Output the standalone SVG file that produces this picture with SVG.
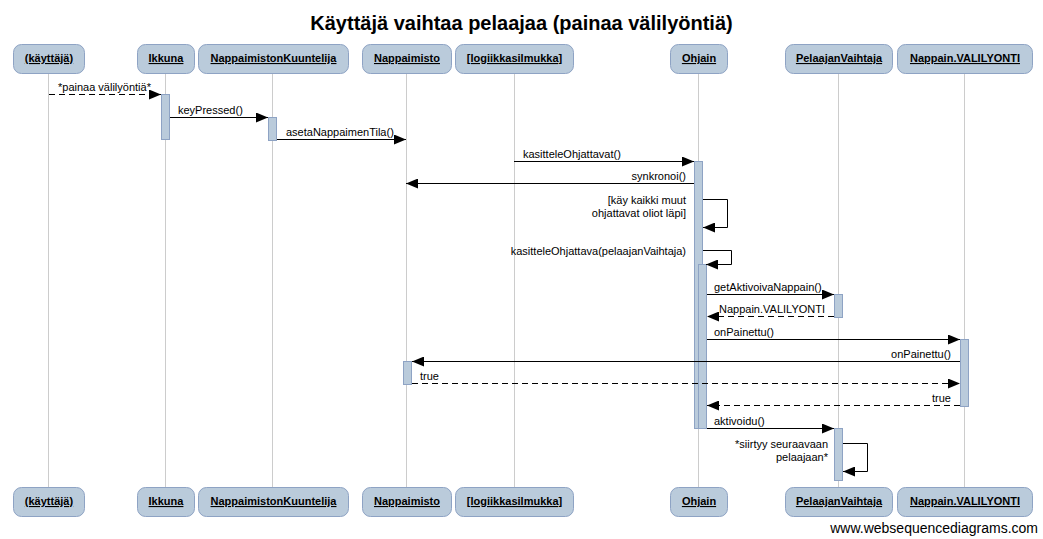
<svg xmlns="http://www.w3.org/2000/svg" width="1043" height="539" viewBox="0 0 1043 539">
<style>
.box{fill:#bacbdb;stroke:#8ea3c4;stroke-width:1}
.bl{font-family:"Liberation Sans",Arial,sans-serif;font-size:11px;font-weight:bold;text-decoration:underline;text-anchor:middle;fill:#000}
.life{stroke:#cccccc;stroke-width:1;fill:none}
.act{fill:#bacbdb;stroke:#8ea3c4;stroke-width:1}
.msg{stroke:#000;stroke-width:1;fill:none}
.dash{stroke-dasharray:6,4}
.t{font-family:"Liberation Sans",Arial,sans-serif;font-size:11px;fill:#000}
.r{text-anchor:end}
</style>
<defs>
<marker id="ah" markerUnits="userSpaceOnUse" markerWidth="12" markerHeight="10" refX="12" refY="5" orient="auto">
<path d="M0,0 L12,5 L0,10 z" fill="#000"/>
</marker>
</defs>
<rect width="1043" height="539" fill="#fff"/>
<text x="521.5" y="30" style="font-family:'Liberation Sans',Arial,sans-serif;font-size:20px;font-weight:bold" text-anchor="middle">Käyttäjä vaihtaa pelaajaa (painaa välilyöntiä)</text>

<g id="lifelines">
<line class="life" x1="48.5" y1="74" x2="48.5" y2="487"/>
<line class="life" x1="165.5" y1="74" x2="165.5" y2="487"/>
<line class="life" x1="272.5" y1="74" x2="272.5" y2="487"/>
<line class="life" x1="406.5" y1="74" x2="406.5" y2="487"/>
<line class="life" x1="514.5" y1="74" x2="514.5" y2="487"/>
<line class="life" x1="698.5" y1="74" x2="698.5" y2="487"/>
<line class="life" x1="838.5" y1="74" x2="838.5" y2="487"/>
<line class="life" x1="964.5" y1="74" x2="964.5" y2="487"/>
</g>

<g id="n-kayttaja">
<rect class="box" x="13.5" y="44.5" width="71" height="29" rx="8"/>
<text class="bl" x="49" y="62">(käyttäjä)</text>
<rect class="box" x="13.5" y="487.5" width="71" height="29" rx="8"/>
<text class="bl" x="49" y="505">(käyttäjä)</text>
</g>
<g id="n-ikkuna">
<rect class="box" x="137.5" y="44.5" width="57" height="29" rx="8"/>
<text class="bl" x="166" y="62">Ikkuna</text>
<rect class="box" x="137.5" y="487.5" width="57" height="29" rx="8"/>
<text class="bl" x="166" y="505">Ikkuna</text>
</g>
<g id="n-kuuntelija">
<rect class="box" x="198.5" y="44.5" width="150" height="29" rx="8"/>
<text class="bl" x="273.5" y="62">NappaimistonKuuntelija</text>
<rect class="box" x="198.5" y="487.5" width="150" height="29" rx="8"/>
<text class="bl" x="273.5" y="505">NappaimistonKuuntelija</text>
</g>
<g id="n-nappaimisto">
<rect class="box" x="362.5" y="44.5" width="89" height="29" rx="8"/>
<text class="bl" x="407" y="62">Nappaimisto</text>
<rect class="box" x="362.5" y="487.5" width="89" height="29" rx="8"/>
<text class="bl" x="407" y="505">Nappaimisto</text>
</g>
<g id="n-logiikka">
<rect class="box" x="455.5" y="44.5" width="118" height="29" rx="8"/>
<text class="bl" x="514.5" y="62">[logiikkasilmukka]</text>
<rect class="box" x="455.5" y="487.5" width="118" height="29" rx="8"/>
<text class="bl" x="514.5" y="505">[logiikkasilmukka]</text>
</g>
<g id="n-ohjain">
<rect class="box" x="670.5" y="44.5" width="57" height="29" rx="8"/>
<text class="bl" x="699" y="62">Ohjain</text>
<rect class="box" x="670.5" y="487.5" width="57" height="29" rx="8"/>
<text class="bl" x="699" y="505">Ohjain</text>
</g>
<g id="n-pelaajanvaihtaja">
<rect class="box" x="785.5" y="44.5" width="107" height="29" rx="8"/>
<text class="bl" x="839" y="62">PelaajanVaihtaja</text>
<rect class="box" x="785.5" y="487.5" width="107" height="29" rx="8"/>
<text class="bl" x="839" y="505">PelaajanVaihtaja</text>
</g>
<g id="n-valilyonti">
<rect class="box" x="897.5" y="44.5" width="135" height="29" rx="8"/>
<text class="bl" x="965" y="62">Nappain.VALILYONTI</text>
<rect class="box" x="897.5" y="487.5" width="135" height="29" rx="8"/>
<text class="bl" x="965" y="505">Nappain.VALILYONTI</text>
</g>

<g id="activations">
<rect class="act" x="161.5" y="94.5" width="8" height="45"/>
<rect class="act" x="268.5" y="117.5" width="8" height="23"/>
<rect class="act" x="694.5" y="161.5" width="8" height="267"/>
<rect class="act" x="698.5" y="264.5" width="8" height="164"/>
<rect class="act" x="834.5" y="294.5" width="8" height="23"/>
<rect class="act" x="960.5" y="339.5" width="8" height="67"/>
<rect class="act" x="403.5" y="361.5" width="8" height="23"/>
<rect class="act" x="834.5" y="428.5" width="8" height="52"/>
</g>

<g id="connectors">
<line class="msg dash" x1="49" y1="94.5" x2="161" y2="94.5" marker-end="url(#ah)"/>
<text class="t" x="58" y="91">*painaa välilyöntiä*</text>

<line class="msg" x1="170" y1="117.5" x2="268" y2="117.5" marker-end="url(#ah)"/>
<text class="t" x="178" y="114">keyPressed()</text>

<line class="msg" x1="277" y1="139.5" x2="406" y2="139.5" marker-end="url(#ah)"/>
<text class="t" x="286" y="136">asetaNappaimenTila()</text>

<line class="msg" x1="514" y1="161.5" x2="694" y2="161.5" marker-end="url(#ah)"/>
<text class="t" x="523" y="158">kasitteleOhjattavat()</text>

<line class="msg" x1="694" y1="183.5" x2="406" y2="183.5" marker-end="url(#ah)"/>
<text class="t r" x="686" y="180">synkronoi()</text>

<polyline class="msg" points="703,199.5 727.5,199.5 727.5,227.5 703,227.5" marker-end="url(#ah)"/>
<text class="t r" x="686" y="204">[käy kaikki muut</text>
<text class="t r" x="686" y="217">ohjattavat oliot läpi]</text>

<polyline class="msg" points="703,250.5 731.5,250.5 731.5,264.5 706,264.5" marker-end="url(#ah)"/>
<text class="t r" x="686" y="255">kasitteleOhjattava(pelaajanVaihtaja)</text>

<line class="msg" x1="707" y1="294.5" x2="834" y2="294.5" marker-end="url(#ah)"/>
<text class="t" x="714" y="291">getAktivoivaNappain()</text>

<line class="msg dash" x1="834" y1="316.5" x2="707" y2="316.5" marker-end="url(#ah)"/>
<text class="t r" x="825" y="313">Nappain.VALILYONTI</text>

<line class="msg" x1="707" y1="339.5" x2="960" y2="339.5" marker-end="url(#ah)"/>
<text class="t" x="714" y="336">onPainettu()</text>

<line class="msg" x1="960" y1="361.5" x2="412" y2="361.5" marker-end="url(#ah)"/>
<text class="t r" x="951" y="358">onPainettu()</text>

<line class="msg dash" x1="412" y1="383.5" x2="960" y2="383.5" marker-end="url(#ah)"/>
<text class="t" x="420" y="380">true</text>

<line class="msg dash" x1="960" y1="405.5" x2="707" y2="405.5" marker-end="url(#ah)"/>
<text class="t r" x="951" y="402">true</text>

<line class="msg" x1="707" y1="428.5" x2="834" y2="428.5" marker-end="url(#ah)"/>
<text class="t" x="714" y="425">aktivoidu()</text>

<polyline class="msg" points="843,443.5 867.5,443.5 867.5,471.5 843,471.5" marker-end="url(#ah)"/>
<text class="t r" x="828" y="448">*siirtyy seuraavaan</text>
<text class="t r" x="828" y="461">pelaajaan*</text>
</g>

<text x="1038" y="533" text-anchor="end" style="font-family:'Liberation Sans',Arial,sans-serif;font-size:14px" fill="#000">www.websequencediagrams.com</text>
</svg>
